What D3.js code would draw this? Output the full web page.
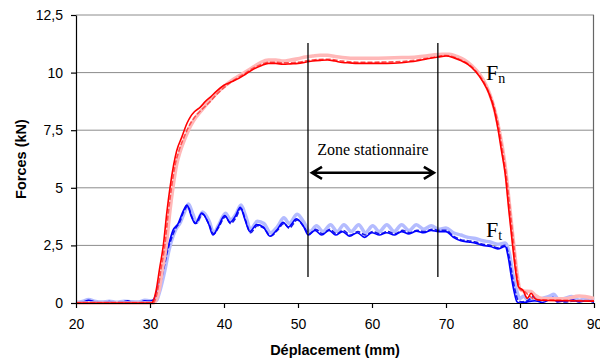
<!DOCTYPE html>
<html>
<head>
<meta charset="utf-8">
<script src="https://cdn.jsdelivr.net/npm/d3@7"></script>
<style>
    body { margin: 0; background: #fff; }
    .tick text { font-family: "Liberation Sans", Arial, sans-serif; font-size: 14px; fill: #000; }
    .label { font-family: "Liberation Sans", Arial, sans-serif; font-weight: bold; font-size: 14.5px; }
    .annot { font-family: "Liberation Serif", "Times New Roman", serif; fill: #000; }
</style>
</head>
<body>
<svg id="chart"></svg>
<script>
let xTicks = [20, 30, 40, 50, 60, 70, 80, 90];
let yTicks = [0, 2.5, 5, 7.5, 10, 12.5];
let yTickLabels = ["0", "2,5", "5", "7,5", "10", "12,5"];

// stationary zone bounds (mm) and arrow height (kN)
let zoneStart = 51.35, zoneEnd = 68.9;
let zoneTop = 11.28, zoneBottom = 1.13, arrowY = 5.65;

// normal force, three runs
let fnSolid = [[20,0],[30.2,0],[30.8,0.5],[31.3,1.5],[31.8,2.5],[32.3,4.0],[32.7,5.0],[33.2,6.0],[33.6,6.6],[34.3,7.2],[35,7.8],[35.5,8.1],[36,8.3],[36.8,8.5],[37.5,8.75],[38.2,8.95],[39,9.2],[40,9.45],[41,9.6],[42,9.75],[43,9.95],[44,10.15],[45,10.3],[46,10.4],[47,10.4],[48,10.36],[49,10.38],[50,10.4],[51,10.45],[52,10.5],[53,10.53],[54,10.55],[55,10.5],[56,10.44],[57,10.42],[58,10.4],[60,10.4],[62,10.4],[64,10.43],[66,10.5],[67.5,10.6],[69,10.68],[70,10.72],[71,10.65],[72,10.52],[73,10.35],[74,10.05],[75,9.6],[75.8,9.1],[76.5,8.4],[77,7.6],[77.5,6.6],[78,5.6],[78.5,4.0],[79,2.5],[79.4,1.4],[79.8,0.7],[80.4,0.55],[81,0.2],[81.5,0.42],[82,0.2],[82.7,0.12],[86,0.1],[90,0.08]];
let fnLight = [[20,0],[30.5,0],[31.2,0.5],[31.7,1.5],[32.2,2.5],[32.7,4.0],[33.1,5.0],[33.6,6.0],[34.1,6.6],[34.8,7.2],[35.5,7.7],[36.3,8.1],[37.2,8.45],[38,8.75],[39,9.1],[40,9.4],[41,9.65],[42,9.85],[43,10.05],[44,10.25],[45,10.45],[46,10.55],[47,10.55],[48,10.5],[49,10.55],[50,10.6],[51,10.68],[52,10.72],[53,10.75],[54,10.75],[55,10.7],[56,10.66],[58,10.62],[60,10.62],[62,10.63],[64,10.65],[66,10.68],[68,10.75],[69.5,10.8],[70.5,10.8],[71.5,10.7],[72.5,10.55],[73.5,10.3],[74.5,9.95],[75.5,9.4],[76.3,8.7],[77,7.8],[77.6,6.8],[78.1,5.7],[78.6,4.2],[79.1,2.7],[79.6,1.3],[80,0.6],[80.5,0.52],[81.5,0.5],[82,0.35],[83,0.2],[86,0.18],[88,0.3],[90,0.2]];
let fnDashed = [[20,0],[30.4,0],[31,0.5],[31.5,1.5],[32,2.5],[32.5,4.0],[32.9,5.0],[33.4,6.0],[33.9,6.6],[34.6,7.2],[35.3,7.7],[36,8.05],[37,8.4],[38,8.7],[39,9.05],[40,9.35],[41,9.6],[42,9.8],[43,10.0],[44,10.2],[45,10.35],[46,10.45],[47,10.45],[48,10.42],[50,10.45],[52,10.55],[54,10.58],[56,10.5],[58,10.45],[60,10.45],[62,10.46],[64,10.48],[66,10.55],[68,10.65],[70,10.74],[71,10.68],[72,10.55],[73,10.38],[74,10.08],[75,9.65],[75.8,9.15],[76.6,8.4],[77.2,7.5],[77.7,6.5],[78.2,5.4],[78.7,3.9],[79.2,2.4],[79.6,1.2],[80,0.6],[80.6,0.5],[81.3,0.3],[82,0.15],[90,0.1]];

// tangential force, three runs
let ftSolid = [[20,0],[21,0.05],[21.7,0.12],[22.5,0.05],[23.5,0.02],[24.5,0.06],[25.5,0],[26.5,0.05],[27,0.1],[27.5,0.03],[28.5,0.02],[29.3,0.1],[30,0.08],[30.5,0.15],[31,0.6],[31.6,1.3],[32.2,2.2],[32.7,2.75],[33.1,3.15],[33.8,3.45],[34.5,4.0],[35,4.25],[35.6,3.75],[36.1,3.45],[37,3.9],[37.9,3.45],[38.5,2.95],[39.2,3.3],[40.1,3.8],[40.8,3.5],[41.5,3.75],[42.2,4.15],[42.8,3.65],[43.5,3.1],[44.4,3.4],[45.3,3.3],[46.2,2.9],[47.1,3.15],[48.0,3.5],[48.7,3.3],[49.8,3.65],[50.7,3.35],[51.4,2.95],[52.3,3.15],[53.2,2.95],[54.2,3.15],[55.1,2.95],[56,3.1],[57,2.9],[58,3.05],[59,2.85],[60,3.05],[61,2.95],[62,3.05],[63,2.95],[64,3.1],[65,3.0],[66,3.12],[67,3.05],[68,3.15],[69,3.1],[70,3.1],[71,2.85],[72,2.7],[73,2.65],[74,2.6],[75,2.5],[76,2.45],[77,2.35],[78,2.45],[78.4,2.0],[78.8,1.2],[79.2,0.5],[79.6,0.05],[80,0],[81,0.05],[82,0.1],[83,0.02],[84,0.15],[84.5,0.25],[85,0.05],[86,0.1],[87,0.15],[88,0.05],[89,0.1],[90,0.05]];
let ftLight = [[20,0.02],[21,0.08],[21.7,0.15],[22.5,0.08],[23.5,0.04],[24.5,0.08],[25.5,0.03],[26.5,0.08],[27.5,0.05],[28.5,0.04],[29.3,0.12],[30,0.1],[30.8,0.1],[31.4,0.6],[32,1.4],[32.5,2.2],[33,2.8],[33.5,3.2],[34.1,3.5],[34.8,4.05],[35.2,4.3],[35.8,3.85],[36.3,3.5],[37.1,3.95],[38,3.55],[38.6,3.05],[39.3,3.4],[40.2,3.9],[40.9,3.6],[41.6,3.85],[42.3,4.25],[42.9,3.8],[43.6,3.2],[44.5,3.55],[45.4,3.45],[46.3,3.05],[47.2,3.3],[48.1,3.7],[48.8,3.45],[49.9,3.85],[50.8,3.5],[51.6,3.1],[52.5,3.35],[53.4,3.1],[54.4,3.4],[55.3,3.1],[56.2,3.4],[57.2,3.1],[58.2,3.4],[59.1,3.05],[60.1,3.35],[61,3.1],[62,3.4],[63,3.1],[64,3.4],[65,3.15],[66,3.4],[67,3.2],[68,3.35],[69,3.2],[70,3.25],[71,3.05],[72,2.95],[73,2.85],[74,2.8],[75,2.7],[76,2.65],[77,2.55],[78,2.6],[78.6,2.1],[79,1.3],[79.5,0.6],[80,0.2],[80.5,0.3],[81,0.15],[82,0.1],[83,0.2],[84,0.3],[84.6,0.38],[85.2,0.15],[86,0.2],[87,0.28],[88,0.12],[89,0.2],[90,0.12]];
let ftDashed = [[20,0],[22,0.05],[24,0.02],[26,0.05],[28,0.02],[30,0.05],[30.6,0.1],[31.2,0.6],[31.8,1.4],[32.4,2.3],[32.9,2.8],[33.4,3.2],[34,3.5],[34.6,4.0],[35.1,4.2],[35.7,3.7],[36.2,3.45],[37.1,3.85],[38,3.4],[38.6,3.0],[39.3,3.3],[40.2,3.75],[40.9,3.45],[41.6,3.7],[42.3,4.1],[42.9,3.6],[43.6,3.05],[44.5,3.35],[45.4,3.25],[46.3,2.9],[47.2,3.15],[48.1,3.45],[48.8,3.25],[49.9,3.6],[50.8,3.3],[51.5,3.0],[52.4,3.2],[53.3,3.0],[54.3,3.2],[55.2,3.0],[56.1,3.15],[57.1,2.95],[58.1,3.1],[59.1,2.95],[60.1,3.1],[61.1,3.0],[62.1,3.1],[63.1,3.0],[64.1,3.15],[65.1,3.05],[66.1,3.15],[67.1,3.1],[68.1,3.2],[69.1,3.15],[70,3.15],[71,2.9],[72,2.75],[73,2.7],[74,2.65],[75,2.55],[76,2.5],[77,2.4],[78,2.5],[78.5,2.05],[78.9,1.3],[79.3,0.6],[79.8,0.1],[80.3,0.05],[81,0.1],[82,0.3],[82.5,0.1],[84,0.15],[85,0.2],[86,0.05],[88,0.1],[90,0.05]];

let svgW = 600, svgH = 360;
let margin = { top: 15, right: 6, bottom: 57, left: 76 };

let svg = d3.select("#chart")
    .attr("width", svgW)
    .attr("height", svgH)

let xScale = d3.scaleLinear()
    .domain([20, 90])
    .range([margin.left, svgW - margin.right])

let yScale = d3.scaleLinear()
    .domain([0, 12.5])
    .range([svgH - margin.bottom, margin.top])

//gridlines
svg.append("g")
    .selectAll("line")
    .data(yTicks.slice(1))
    .enter()
    .append("line")
    .attr("x1", xScale(20))
    .attr("x2", xScale(90))
    .attr("y1", d => yScale(d))
    .attr("y2", d => yScale(d))
    .style("stroke", "#8c8c8c")
    .style("stroke-width", 1)

svg.append("line")
    .attr("x1", xScale(90) - 0.5)
    .attr("x2", xScale(90) - 0.5)
    .attr("y1", yScale(12.5))
    .attr("y2", yScale(0))
    .style("stroke", "#666")
    .style("stroke-width", 1.2)

let line = d3.line()
    .x(d => xScale(d[0]))
    .y(d => yScale(d[1]))
    .curve(d3.curveMonotoneX)

let series = [
    { data: ftLight, color: "#b4bcff", width: 3.5, dash: null },
    { data: ftDashed, color: "#1a1ae6", width: 1.6, dash: "5,2" },
    { data: ftSolid, color: "#0000ff", width: 1.6, dash: null },
    { data: fnLight, color: "#ffb8b8", width: 3.5, dash: null },
    { data: fnDashed, color: "#ff5050", width: 1.6, dash: "5,2" },
    { data: fnSolid, color: "#ff0000", width: 1.6, dash: null }
];

svg.append("g")
    .selectAll("path")
    .data(series)
    .enter()
    .append("path")
    .attr("d", d => line(d.data))
    .style("fill", "none")
    .style("stroke", d => d.color)
    .style("stroke-width", d => d.width)
    .style("stroke-dasharray", d => d.dash)
    .style("stroke-linejoin", "round")

let xAxis = d3.axisBottom(xScale)
    .tickValues(xTicks)
    .tickSize(5)
    .tickSizeOuter(0)
    .tickPadding(11)

svg.append("g")
    .attr("class", "x axis")
    .attr("transform", "translate(0," + yScale(0) + ")")
    .call(xAxis)

let yAxis = d3.axisLeft(yScale)
    .tickValues(yTicks)
    .tickFormat((d, i) => yTickLabels[i])
    .tickSize(5)
    .tickSizeOuter(0)
    .tickPadding(8)

svg.append("g")
    .attr("class", "y axis")
    .attr("transform", "translate(" + xScale(20) + ",0)")
    .call(yAxis)

svg.selectAll(".axis path, .axis line").style("stroke", "#000").style("stroke-width", 1.2)

svg.append("text")
    .attr("class", "label")
    .attr("text-anchor", "middle")
    .attr("transform", "translate(" + 26 + "," + 159 + ") rotate(-90)")
    .text("Forces (kN)")

svg.append("text")
    .attr("class", "label")
    .attr("text-anchor", "middle")
    .attr("x", 335)
    .attr("y", 355)
    .text("Déplacement (mm)")

//stationary zone markers
svg.append("g")
    .selectAll("line")
    .data([zoneStart, zoneEnd])
    .enter()
    .append("line")
    .attr("x1", d => xScale(d))
    .attr("x2", d => xScale(d))
    .attr("y1", yScale(zoneTop))
    .attr("y2", yScale(zoneBottom))
    .style("stroke", "#000")
    .style("stroke-width", 1.3)

let ax1 = xScale(zoneStart) + 4, ax2 = xScale(zoneEnd) - 4, ay = yScale(arrowY);
svg.append("path")
    .attr("d", "M" + ax1 + "," + ay + "H" + ax2
        + "M" + (ax1 + 10) + "," + (ay - 6) + "L" + ax1 + "," + ay + "L" + (ax1 + 10) + "," + (ay + 6)
        + "M" + (ax2 - 10) + "," + (ay - 6) + "L" + ax2 + "," + ay + "L" + (ax2 - 10) + "," + (ay + 6))
    .style("fill", "none")
    .style("stroke", "#000")
    .style("stroke-width", 2.6)

svg.append("text")
    .attr("class", "annot")
    .attr("x", (xScale(zoneStart) + xScale(zoneEnd)) / 2)
    .attr("y", 155)
    .attr("text-anchor", "middle")
    .style("font-size", "16px")
    .text("Zone stationnaire")

let fn = svg.append("text")
    .attr("class", "annot")
    .attr("x", 486)
    .attr("y", 80)
    .style("font-size", "22px")
fn.append("tspan").text("F")
fn.append("tspan").attr("dy", 3).style("font-size", "14px").text("n")

let ft = svg.append("text")
    .attr("class", "annot")
    .attr("x", 486)
    .attr("y", 237)
    .style("font-size", "22px")
ft.append("tspan").text("F")
ft.append("tspan").attr("dy", 3).style("font-size", "14px").text("t")
</script>
</body>
</html>
